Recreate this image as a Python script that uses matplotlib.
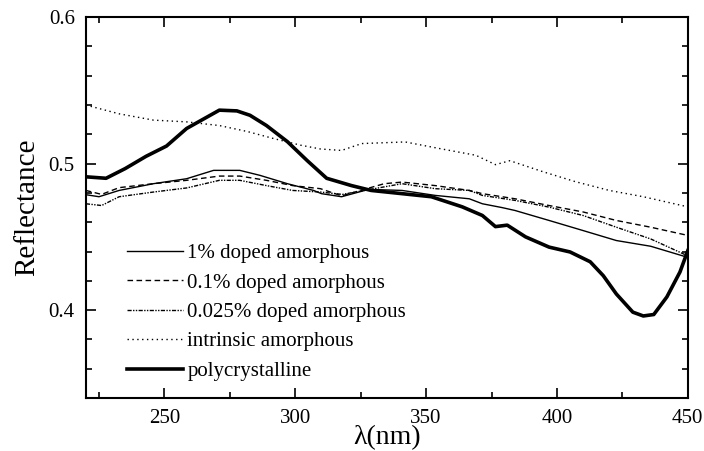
import matplotlib
matplotlib.use('Agg')
import matplotlib.pyplot as plt
from matplotlib.ticker import MultipleLocator

plt.rcParams['font.family'] = ['Liberation Serif', 'DejaVu Serif']

# 1% doped amorphous
x_1 = [220, 225, 232.7, 245.8, 258.5, 268.8, 278.8, 286.5, 297, 307, 310, 317.7,
       328, 340.8, 353.5, 366.5, 371.5, 379, 384, 397, 410, 422.7, 435.8, 450]
r_1 = [0.4788, 0.4774, 0.4817, 0.4863, 0.4897, 0.4954, 0.4954, 0.492, 0.4863, 0.4817, 0.4795, 0.4774,
       0.4824, 0.4817, 0.4783, 0.476, 0.4726, 0.470, 0.468, 0.4612, 0.4543, 0.4475, 0.4436, 0.436]

# 0.1% doped amorphous
x_01 = [220, 226, 232.7, 245.8, 258.5, 271, 278.8, 289, 299, 309.6, 317.7, 334,
        340.8, 353.5, 366.5, 371.5, 384, 397, 410, 422.7, 435.8, 450]
r_01 = [0.4817, 0.479, 0.4836, 0.4863, 0.4886, 0.4915, 0.4915, 0.4886, 0.485, 0.4829, 0.478, 0.4863,
        0.4874, 0.485, 0.4817, 0.4795, 0.476, 0.4714, 0.467, 0.4612, 0.4566, 0.451]

# 0.025% doped amorphous
x_0025 = [220, 226, 232.7, 245.8, 258.5, 271, 278.8, 289, 299, 309.6, 318,
          340.8, 353.5, 366.5, 371.5, 384, 397, 410, 422.7, 435.8, 450]
r_0025 = [0.4726, 0.4714, 0.4774, 0.4806, 0.4834, 0.4886, 0.4886, 0.485, 0.4817, 0.4806, 0.479,
          0.4863, 0.4829, 0.4817, 0.4783, 0.4749, 0.4703, 0.4646, 0.4566, 0.4486, 0.437]

# intrinsic amorphous
x_int = [220, 232.7, 245.8, 258.5, 271, 281.5, 292, 302, 309.6, 317.7, 325.4,
         342, 356, 369, 376.5, 382, 394.6, 407, 420, 433, 450]
r_int = [0.540, 0.534, 0.5297, 0.5285, 0.526, 0.522, 0.517, 0.5126, 0.510, 0.509, 0.5137,
         0.5148, 0.510, 0.5057, 0.4993, 0.502, 0.4945, 0.4877, 0.4817, 0.4774, 0.4705]

# polycrystalline
x_poly = [220, 227.7, 235, 243, 250.8, 258.5, 266, 271, 277.7, 282.7, 289, 297,
          304.6, 312, 321.5, 329, 340.8, 352, 363.8, 371.5, 376.5, 381, 388, 397,
          405, 412.7, 417.7, 422.7, 429, 433, 437, 442, 447, 450]
r_poly = [0.491, 0.490, 0.4966, 0.505, 0.512, 0.524, 0.5315, 0.5365, 0.536, 0.533, 0.526, 0.515,
          0.502, 0.490, 0.485, 0.4817, 0.4795, 0.4774, 0.4705, 0.4646, 0.457, 0.458, 0.450, 0.443,
          0.4397, 0.433, 0.4235, 0.411, 0.3986, 0.396, 0.397, 0.409, 0.426, 0.4406]

fig = plt.figure(figsize=(7.04, 4.51), dpi=100)
ax = fig.add_axes([0.122, 0.1175, 0.855, 0.8445])

ax.plot(x_1, r_1, color='black', lw=1.0, label='1% doped amorphous')
ax.plot(x_01, r_01, color='black', lw=1.0, dashes=(4, 2.5), label='0.1% doped amorphous')
ax.plot(x_0025, r_0025, color='black', lw=1.0, dashes=(3, 1, 1, 1, 1, 1), label='0.025% doped amorphous')
ax.plot(x_int, r_int, color='black', lw=1.0, dashes=(1, 2.5), label='intrinsic amorphous')
ax.plot(x_poly, r_poly, color='black', lw=2.6, label='polycrystalline')

ax.set_xlim(220, 450)
ax.set_ylim(0.34, 0.6)
ax.xaxis.set_major_locator(MultipleLocator(50))
ax.xaxis.set_minor_locator(MultipleLocator(25))
ax.yaxis.set_major_locator(MultipleLocator(0.1))
ax.yaxis.set_minor_locator(MultipleLocator(0.02))
ax.tick_params(which='both', direction='in', top=True, right=True, width=1.2, labelsize=15)
ax.tick_params(which='major', length=7, pad=8)
ax.tick_params(which='minor', length=4)
for s in ax.spines.values():
    s.set_linewidth(1.5)

ax.set_xlabel('λ(nm)', fontsize=20, labelpad=-2)
ax.set_ylabel('Reflectance', fontsize=21, labelpad=6)

ax.legend(loc='lower left', bbox_to_anchor=(0.068, 0.045), frameon=False, fontsize=15,
          handlelength=2.7, handletextpad=0.2, labelspacing=0.47, borderpad=0, borderaxespad=0)

fig.savefig('out.png', dpi=100)
